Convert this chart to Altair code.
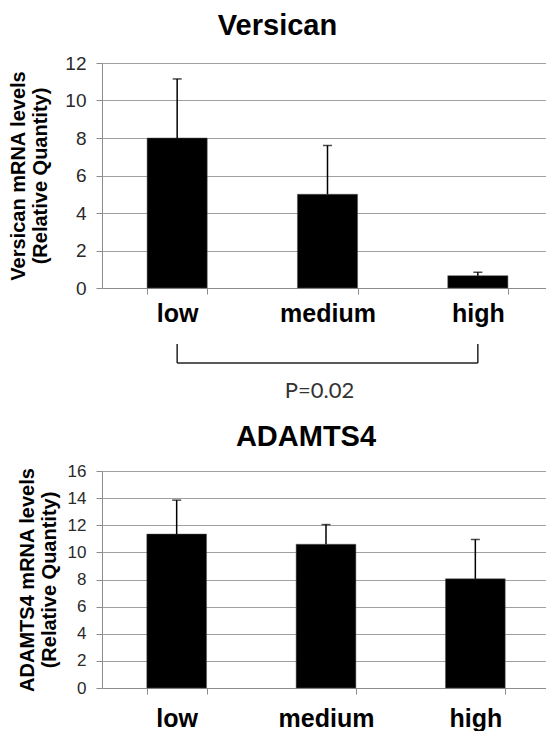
import altair as alt
import pandas as pd

categories = ["low", "medium", "high"]
versican_mean = [8.0, 5.0, 0.66]
versican_err = [3.15, 2.6, 0.18]
adamts4_mean = [11.35, 10.6, 8.05]
adamts4_err = [2.5, 1.45, 2.9]
versican_ticks = [0, 2, 4, 6, 8, 10, 12]
adamts4_ticks = [0, 2, 4, 6, 8, 10, 12, 14, 16]
bracket_ends = ["low", "high"]
bracket_mid = ["medium"]
p_label = ["P=0.02"]

FONT = "Liberation Sans"


def make_df(means, errs):
    return pd.DataFrame({
        "group": categories,
        "mean": means,
        "top": [m + e for m, e in zip(means, errs)],
    })


def x_enc(field, xlab_pad):
    return alt.X(
        field, sort=categories, title=None,
        scale=alt.Scale(domain=categories, paddingInner=0.6, paddingOuter=0.3),
        axis=alt.Axis(labelAngle=0, labelFont=FONT, labelFontSize=25, labelFontWeight="bold",
                      labelColor="black", labelPadding=xlab_pad, tickBand="extent", tickSize=6,
                      tickColor="#8c8c8c", domainColor="#8c8c8c", grid=False),
    )


def y_enc(field, ticks, ymax, ytitle, ytitle_pad, tick_fs, ytitle_fs):
    return alt.Y(
        field, title=ytitle, scale=alt.Scale(domain=[0, ymax], nice=False),
        axis=alt.Axis(values=ticks, labelFont=FONT, labelFontSize=tick_fs, labelColor="#2a2a2a",
                      labelPadding=10, tickSize=6, tickColor="#8c8c8c", domainColor="#8c8c8c",
                      gridColor="#a0a0a0", gridWidth=1, titleFont=FONT, titleFontSize=ytitle_fs,
                      titleFontWeight="bold", titleColor="black", titlePadding=ytitle_pad,
                      titleLineHeight=22),
    )


def panel(data, ticks, ymax, ytitle, title, title_dx, title_off, xlab_pad, ytitle_pad, tick_fs, ytitle_fs):
    yargs = (ticks, ymax, ytitle, ytitle_pad, tick_fs, ytitle_fs)
    base = alt.Chart(data)
    bars = base.mark_bar(color="black", stroke="#555", strokeWidth=0.5).encode(
        x=x_enc("group:N", xlab_pad), y=y_enc("mean:Q", *yargs))
    err = base.mark_rule(color="black", strokeWidth=1.5).encode(
        x=x_enc("group:N", xlab_pad), y=y_enc("mean:Q", *yargs), y2="top:Q")
    cap = base.mark_tick(color="black", size=9, thickness=1.5).encode(
        x=x_enc("group:N", xlab_pad), y=y_enc("top:Q", *yargs))
    ttl = alt.TitleParams(
        title, font=FONT, fontSize=29, fontWeight="bold", color="black",
        anchor="middle", frame="group", dx=title_dx, offset=title_off)
    return [bars, err, cap], ttl


v_layers, v_title = panel(
    make_df(versican_mean, versican_err), versican_ticks, 12,
    ["Versican mRNA levels", "(Relative Quantity)"], "Versican",
    -50, 13, 7, 14, 19, 20)

bracket_df = pd.DataFrame({"a": [bracket_ends[0]], "b": [bracket_ends[1]]})
ends_df = pd.DataFrame({"end": bracket_ends})
p_df = pd.DataFrame({"mid": bracket_mid, "label": p_label})

bracket_h = alt.Chart(bracket_df).mark_rule(color="#222", strokeWidth=1.5).encode(
    x=x_enc("a:N", 7), x2="b:N", y=alt.value(300))
bracket_v = alt.Chart(ends_df).mark_rule(color="#222", strokeWidth=1.5).encode(
    x=x_enc("end:N", 7), y=alt.value(281), y2=alt.value(300))
p_text = alt.Chart(p_df).mark_text(font="Lato", fontSize=22, color="#333", dx=-8, baseline="middle").encode(
    x=x_enc("mid:N", 7), y=alt.value(328), text="label:N")

top = alt.layer(*v_layers, bracket_h, bracket_v, p_text).properties(
    width=451, height=225, title=v_title)

a_layers, a_title = panel(
    make_df(adamts4_mean, adamts4_err), adamts4_ticks, 16,
    ["ADAMTS4 mRNA levels", "(Relative Quantity)"], "ADAMTS4",
    -20, 10, 12, 8, 17, 20)

bottom = alt.layer(*a_layers).properties(width=448, height=217, title=a_title)

chart = alt.vconcat(top, bottom, spacing=21).properties(
    padding={"left": 0, "top": 4, "right": -7, "bottom": 0},
    background="white",
).configure_view(stroke=None)

chart.save("out.html", embed_options={"renderer": "svg", "actions": False})
